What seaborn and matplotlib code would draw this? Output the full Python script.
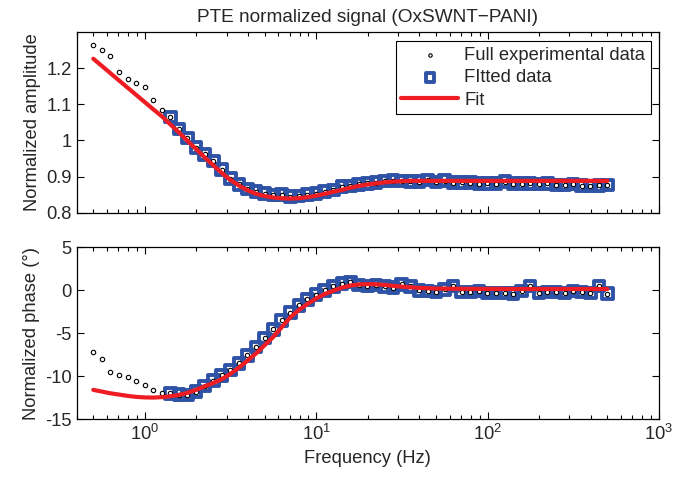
import numpy as np
import pandas as pd
import matplotlib
matplotlib.use("Agg")
import matplotlib.pyplot as plt
import seaborn as sns

# ---------------- data ----------------
freq = [0.5, 0.561, 0.629, 0.706, 0.792, 0.889, 0.998, 1.12, 1.26, 1.41,
        1.58, 1.77, 1.99, 2.23, 2.51, 2.81, 3.15, 3.54, 3.97, 4.46,
        5.0, 5.61, 6.29, 7.06, 7.92, 8.89, 9.98, 11.2, 12.6, 14.1,
        15.8, 17.7, 19.9, 22.3, 25.1, 28.1, 31.5, 35.4, 39.7, 44.6,
        50.0, 56.1, 62.9, 70.6, 79.2, 88.9, 99.8, 112, 126, 141,
        158, 177, 199, 223, 251, 281, 315, 354, 397, 446, 500]

amp_exp = [1.263, 1.249, 1.233, 1.190, 1.171, 1.160, 1.148, 1.112, 1.085, 1.065,
           1.031, 1.007, 0.980, 0.961, 0.943, 0.919, 0.894, 0.878, 0.865, 0.858,
           0.853, 0.849, 0.850, 0.844, 0.846, 0.850, 0.853, 0.858, 0.863, 0.872,
           0.874, 0.878, 0.881, 0.883, 0.888, 0.889, 0.888, 0.887, 0.886, 0.890,
           0.885, 0.889, 0.883, 0.884, 0.883, 0.880, 0.881, 0.880, 0.886, 0.880,
           0.880, 0.881, 0.879, 0.881, 0.877, 0.877, 0.879, 0.875, 0.874, 0.876,
           0.877]

amp_fit = [1.226, 1.206, 1.186, 1.166, 1.146, 1.126, 1.106, 1.086, 1.066, 1.044,
           1.022, 0.999, 0.976, 0.953, 0.931, 0.910, 0.891, 0.875, 0.862, 0.852,
           0.846, 0.842, 0.840, 0.839, 0.840, 0.843, 0.847, 0.852, 0.858, 0.863,
           0.869, 0.874, 0.878, 0.881, 0.884, 0.886, 0.887, 0.888, 0.888, 0.888,
           0.888, 0.888, 0.888, 0.888, 0.888, 0.888, 0.888, 0.888, 0.888, 0.888,
           0.888, 0.888, 0.888, 0.888, 0.888, 0.888, 0.888, 0.888, 0.888, 0.888,
           0.888]

phase_exp = [-7.22, -8.04, -9.52, -9.92, -10.15, -10.54, -11.05, -11.65, -12.0, -12.02,
             -12.15, -12.2, -11.8, -11.17, -10.54, -9.92, -9.29, -8.51, -7.57, -6.6,
             -5.58, -4.55, -3.51, -2.6, -1.76, -1.07, -0.5, 0.0, 0.47, 0.78,
             0.97, 0.59, 0.5, 0.59, 0.47, 0.32, 0.70, 0.47, 0.0, -0.08,
             -0.2, 0.12, 0.5, -0.2, -0.2, -0.08, -0.31, -0.31, -0.31, -0.39,
             -0.08, 0.5, -0.31, -0.2, -0.2, -0.31, -0.08, -0.2, -0.31, 0.5,
             -0.39]

phase_fit = [-11.6, -11.8, -12.0, -12.15, -12.3, -12.42, -12.48, -12.5, -12.45, -12.35,
             -12.2, -11.95, -11.6, -11.2, -10.8, -10.35, -9.75, -9.0, -8.2, -7.35,
             -6.4, -5.45, -4.3, -3.15, -2.3, -1.6, -0.95, -0.45, -0.05, 0.3,
             0.55, 0.68, 0.72, 0.7, 0.62, 0.52, 0.42, 0.35, 0.28, 0.24,
             0.2, 0.19, 0.18, 0.17, 0.17, 0.16, 0.16, 0.16, 0.15, 0.15,
             0.15, 0.15, 0.15, 0.15, 0.15, 0.15, 0.15, 0.15, 0.15, 0.15,
             0.15]

fit_start = 9  # first index of the fitted range

title = "PTE normalized signal (OxSWNT\u2212PANI)"
xlabel = "Frequency (Hz)"
ylabel_top = "Normalized amplitude"
ylabel_bot = "Normalized phase (\u00b0)"
legend_labels = ["Full experimental data", "FItted data", "Fit"]

# ---------------- style ----------------
sns.set_style("ticks")
plt.rcParams["font.family"] = ["Liberation Sans", "DejaVu Sans"]
plt.rcParams["mathtext.fontset"] = "custom"
plt.rcParams["mathtext.rm"] = "Liberation Sans"
plt.rcParams["mathtext.it"] = "Liberation Sans"
FS = 13.2

df = pd.DataFrame({"f": freq, "amp": amp_exp, "ampfit": amp_fit,
                   "ph": phase_exp, "phfit": phase_fit})
dfit = df.iloc[fit_start:]

fig = plt.figure(figsize=(6.75, 4.8), dpi=100)
ax1 = fig.add_axes([0.1136, 0.5569, 0.8627, 0.3765])
ax2 = fig.add_axes([0.1136, 0.127, 0.8627, 0.3577])

BLUE = "#2E52A6"
RED = "#EE1D23"

for ax, yexp, yfit in [(ax1, "amp", "ampfit"), (ax2, "ph", "phfit")]:
    sns.scatterplot(data=df, x="f", y=yexp, ax=ax, marker="o", s=10,
                    facecolor="white", edgecolor="black", linewidth=0.8,
                    zorder=3, label=legend_labels[0])
    sns.scatterplot(data=dfit, x="f", y=yexp, ax=ax, marker="s", s=58,
                    facecolor="none", edgecolor=BLUE, linewidth=2.8,
                    zorder=2, label=legend_labels[1])
    sns.lineplot(data=df, x="f", y=yfit, ax=ax, color=RED, linewidth=3,
                 zorder=4, label=legend_labels[2])
    ax.set_xscale("log")
    ax.set_xlim(0.4, 1000)
    ax.tick_params(which="both", direction="in", top=True, right=True,
                   labelsize=FS, width=0.8, color="black")
    ax.tick_params(which="major", length=5)
    ax.tick_params(which="minor", length=3)
    for sp in ax.spines.values():
        sp.set_linewidth(0.9)
        sp.set_color("black")
    ax.set_xlabel("")

ax1.set_ylim(0.8, 1.3)
ax1.set_yticks([0.8, 0.9, 1.0, 1.1, 1.2])
ax1.set_yticklabels(["0.8", "0.9", "1", "1.1", "1.2"])
ax1.tick_params(axis="x", which="both", labelbottom=False)
ax1.set_ylabel(ylabel_top, fontsize=FS)
ax1.set_title(title, fontsize=FS + 0.5, pad=7)

ax2.set_ylim(-15, 5)
ax2.set_yticks([-15, -10, -5, 0, 5])
ax2.set_yticklabels(["-15", "-10", "-5", "0", "5"])
ax2.set_ylabel(ylabel_bot, fontsize=FS)
ax2.set_xlabel(xlabel, fontsize=FS)
ax2.get_legend().remove()

handles, labels = ax1.get_legend_handles_labels()
leg = ax1.legend(handles, labels, loc="upper right",
                 bbox_to_anchor=(0.986, 0.948), fontsize=FS,
                 frameon=True, fancybox=False, framealpha=1,
                 edgecolor="black", handlelength=3.1, borderpad=0.3,
                 labelspacing=0.3, handletextpad=0.35, borderaxespad=0)
leg.get_frame().set_linewidth(0.8)
for h in leg.legend_handles:
    try:
        h.set_sizes([h.get_sizes()[0] * 0.6])
    except Exception:
        pass

fig.savefig("out.png", dpi=100)
